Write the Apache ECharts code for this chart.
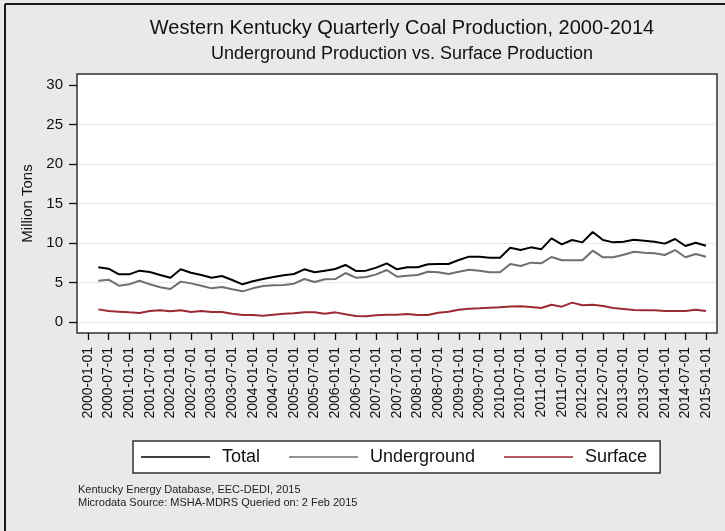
<!DOCTYPE html>
<html>
<head>
<meta charset="utf-8">
<script src="https://cdn.jsdelivr.net/npm/echarts@6/dist/echarts.min.js"></script>
<style>
html,body{margin:0;padding:0;background:#e9e9e9;}
#chart{width:725px;height:531px;}
</style>
</head>
<body>
<div id="chart"></div>
<script>
const titleText = "Western Kentucky Quarterly Coal Production, 2000-2014";
const subtitleText = "Underground Production vs. Surface Production";
const yAxisName = "Million Tons";
const seriesNames = ["Total", "Underground", "Surface"];
const sourceLines = ["Kentucky Energy Database, EEC-DEDI, 2015", "Microdata Source: MSHA-MDRS Queried on: 2 Feb 2015"];

const tickLabels = ["2000-01-01","2000-07-01","2001-01-01","2001-07-01","2002-01-01","2002-07-01","2003-01-01","2003-07-01",
  "2004-01-01","2004-07-01","2005-01-01","2005-07-01","2006-01-01","2006-07-01","2007-01-01","2007-07-01",
  "2008-01-01","2008-07-01","2009-01-01","2009-07-01","2010-01-01","2010-07-01","2011-01-01","2011-07-01",
  "2012-01-01","2012-07-01","2013-01-01","2013-07-01","2014-01-01","2014-07-01","2015-01-01"];

const quarterDates = ["2000-04-01","2000-07-01","2000-10-01","2001-01-01","2001-04-01","2001-07-01","2001-10-01","2002-01-01",
  "2002-04-01","2002-07-01","2002-10-01","2003-01-01","2003-04-01","2003-07-01","2003-10-01","2004-01-01",
  "2004-04-01","2004-07-01","2004-10-01","2005-01-01","2005-04-01","2005-07-01","2005-10-01","2006-01-01",
  "2006-04-01","2006-07-01","2006-10-01","2007-01-01","2007-04-01","2007-07-01","2007-10-01","2008-01-01",
  "2008-04-01","2008-07-01","2008-10-01","2009-01-01","2009-04-01","2009-07-01","2009-10-01","2010-01-01",
  "2010-04-01","2010-07-01","2010-10-01","2011-01-01","2011-04-01","2011-07-01","2011-10-01","2012-01-01",
  "2012-04-01","2012-07-01","2012-10-01","2013-01-01","2013-04-01","2013-07-01","2013-10-01","2014-01-01",
  "2014-04-01","2014-07-01","2014-10-01","2015-01-01"];

const totalValues = [6.92,6.75,6.03,6.03,6.50,6.33,5.95,5.61,6.67,6.24,5.95,5.61,5.82,5.32,4.77,5.15,5.44,5.70,5.91,6.08,
  6.67,6.29,6.50,6.71,7.22,6.46,6.50,6.88,7.43,6.67,6.92,6.92,7.30,7.34,7.34,7.85,8.27,8.27,8.14,8.14,
  9.41,9.11,9.45,9.20,10.59,9.83,10.38,10.08,11.39,10.38,10.08,10.17,10.42,10.30,10.17,9.92,10.51,9.62,10.04,9.66];

const undergroundValues = [5.23,5.36,4.60,4.77,5.23,4.77,4.39,4.18,5.11,4.89,4.60,4.26,4.43,4.14,3.88,4.26,4.56,4.64,4.68,4.85,
  5.44,5.06,5.40,5.44,6.20,5.61,5.70,6.03,6.58,5.74,5.86,5.95,6.37,6.29,6.08,6.37,6.62,6.50,6.29,6.29,
  7.34,7.09,7.51,7.43,8.23,7.81,7.81,7.81,9.03,8.19,8.19,8.52,8.90,8.78,8.69,8.48,9.11,8.19,8.61,8.27];

const surfaceValues = [1.60,1.39,1.31,1.22,1.14,1.39,1.48,1.35,1.48,1.27,1.39,1.27,1.27,1.05,0.89,0.89,0.80,0.93,1.05,1.10,
  1.22,1.22,1.05,1.22,0.97,0.76,0.72,0.84,0.93,0.93,1.01,0.89,0.89,1.18,1.31,1.56,1.69,1.73,1.81,1.86,
  1.97,1.98,1.90,1.77,2.19,1.94,2.45,2.11,2.19,2.03,1.77,1.65,1.52,1.48,1.48,1.39,1.39,1.39,1.56,1.39];

const yTicks = [0, 5, 10, 15, 20, 25, 30];

function qIndex(d) { const y = +d.slice(0, 4), m = +d.slice(5, 7); return (y - 2000) * 4 + (m - 1) / 3; }
function pairs(vals) { return quarterDates.map((d, i) => [qIndex(d), vals[i]]); }
const xTickValues = tickLabels.map(qIndex);

const FONT = "'Liberation Sans', Arial, sans-serif";
const chart = echarts.init(document.getElementById('chart'), null, { renderer: 'canvas' });

const option = {
  backgroundColor: '#e9e9e9',
  animation: false,
  textStyle: { fontFamily: FONT },
  title: [
    { text: titleText, left: 397, top: 13, textAlign: 'center',
      textStyle: { fontFamily: FONT, fontSize: 20, fontWeight: 'normal', color: '#111' } },
    { text: subtitleText, left: 397, top: 40, textAlign: 'center',
      textStyle: { fontFamily: FONT, fontSize: 18, fontWeight: 'normal', color: '#111' } }
  ],
  grid: [
    { left: 77, right: 8, top: 74, bottom: 198, containLabel: false },
    { left: 78, right: 9, top: 85, bottom: 209, containLabel: false }
  ],
  xAxis: [
    { type: 'value', gridIndex: 0, min: -1.068, max: 61.068, position: 'bottom',
      axisLine: { show: false, onZero: false },
      axisTick: { show: true, inside: false, length: 7, customValues: xTickValues, lineStyle: { color: '#111', width: 1.3 } },
      splitLine: { show: false },
      axisLabel: { rotate: 90, margin: 14, fontSize: 14, color: '#111', fontFamily: FONT,
        customValues: xTickValues,
        formatter: v => tickLabels[xTickValues.indexOf(v)] } },
    { type: 'value', gridIndex: 1, min: 0, max: 1, show: false }
  ],
  yAxis: [
    { type: 'value', gridIndex: 0, min: -1.392, max: 31.392, position: 'left',
      axisLine: { show: false, onZero: false },
      axisTick: { show: true, inside: false, length: 8, customValues: yTicks, lineStyle: { color: '#111', width: 1.3 } },
      splitLine: { show: false },
      axisLabel: { margin: 14, fontSize: 15, color: '#111', fontFamily: FONT, customValues: yTicks },
      name: yAxisName, nameLocation: 'middle', nameRotate: 90, nameGap: 38,
      nameTextStyle: { fontSize: 15, color: '#111', fontFamily: FONT } },
    { type: 'value', gridIndex: 1, min: yTicks[0], max: yTicks[yTicks.length - 1], interval: 5,
      axisLine: { show: false }, axisTick: { show: false }, axisLabel: { show: false },
      splitLine: { show: true, lineStyle: { width: 1.2,
        color: ['#e2edf1', '#e2edf1', '#e2edf1', '#e2edf1', '#e2edf1', '#e2edf1', 'rgba(0,0,0,0)'] } } }
  ],
  legend: {
    data: seriesNames,
    left: 133, top: 441,
    orient: 'horizontal',
    backgroundColor: '#ffffff',
    borderColor: '#333', borderWidth: 1.5, borderRadius: 0,
    padding: [7, 13, 7, 8],
    itemGap: 29, itemWidth: 69, itemHeight: 18,
    icon: 'path://M0,0 L69,0 L69,1.4 L0,1.4 Z',
    textStyle: { fontSize: 18, color: '#111', fontFamily: FONT, padding: [0, 0, 0, 7] },
    selectedMode: false
  },
  graphic: [
    { type: 'rect', z: -10, shape: { x: 77, y: 74, width: 640, height: 259 },
      style: { fill: '#ffffff', stroke: '#333', lineWidth: 1.5 } },
    { type: 'line', z: 10, shape: { x1: 5, y1: 4, x2: 725, y2: 4 }, style: { stroke: '#1a1a1a', lineWidth: 2 } },
    { type: 'line', z: 10, shape: { x1: 5, y1: 4, x2: 5, y2: 531 }, style: { stroke: '#1a1a1a', lineWidth: 2 } },
    { type: 'text', left: 78, top: 484, style: { text: sourceLines[0], font: '11px ' + FONT, fill: '#222' } },
    { type: 'text', left: 78, top: 497, style: { text: sourceLines[1], font: '11px ' + FONT, fill: '#222' } }
  ],
  series: [
    { name: seriesNames[0], type: 'line', xAxisIndex: 0, yAxisIndex: 0, data: pairs(totalValues),
      symbol: 'none', lineStyle: { color: '#000000', width: 2 }, itemStyle: { color: '#000000' }, z: 5 },
    { name: seriesNames[1], type: 'line', xAxisIndex: 0, yAxisIndex: 0, data: pairs(undergroundValues),
      symbol: 'none', lineStyle: { color: '#6f6f6f', width: 2 }, itemStyle: { color: '#6f6f6f' }, z: 4 },
    { name: seriesNames[2], type: 'line', xAxisIndex: 0, yAxisIndex: 0, data: pairs(surfaceValues),
      symbol: 'none', lineStyle: { color: '#9b2a32', width: 2 }, itemStyle: { color: '#9b2a32' }, z: 3 }
  ]
};
chart.setOption(option);
</script>
</body>
</html>
